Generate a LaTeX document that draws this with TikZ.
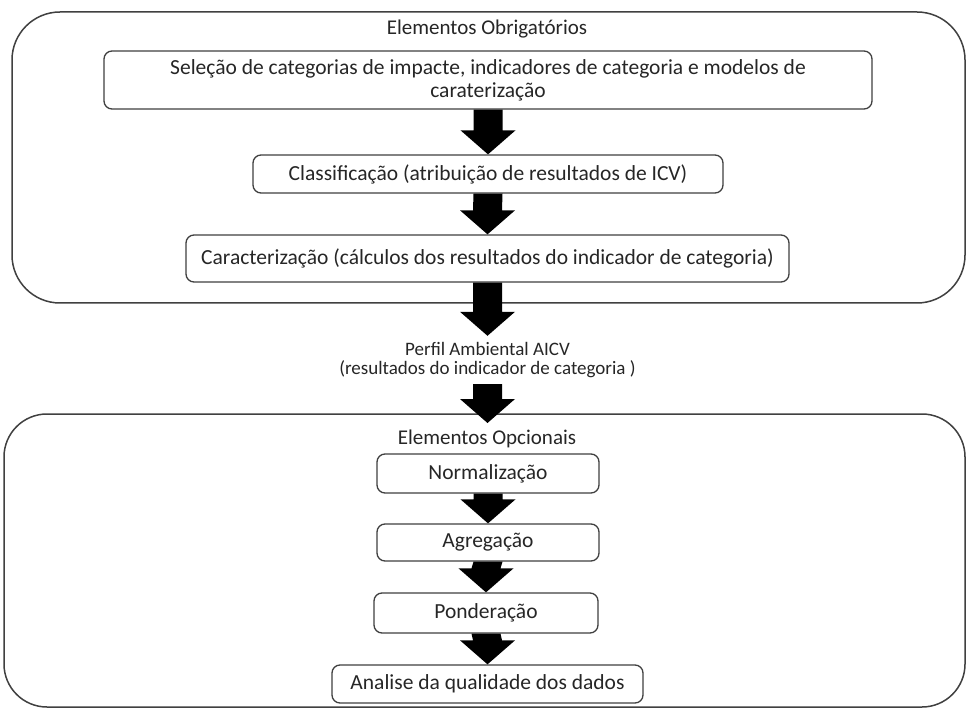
\documentclass[tikz,border=0pt]{standalone}
\usepackage{fontspec}
\setmainfont{Carlito}
\usetikzlibrary{calc}
\definecolor{edge}{HTML}{404040}
\tikzset{
  box/.style={draw=edge, line width=1.3pt, rounded corners=8pt, align=center, inner sep=0pt, font=\fontsize{21.5}{23}\selectfont, text=black!85},
  container/.style={draw=edge, line width=1.5pt},
  lbl/.style={align=center, inner sep=0pt, font=\fontsize{21}{22}\selectfont, text=black!85},
  perfillbl/.style={align=center, inner sep=0pt, font=\fontsize{19}{18.5}\selectfont, text=black!85},
  bigarrow/.style={to path={
    -- ($(\tikztostart)+(14.5,0)$)
    -- ($(\tikztotarget)+(14.5,-24)$)
    -- ($(\tikztotarget)+(27.5,-24)$)
    -- (\tikztotarget)
    -- ($(\tikztotarget)+(-27.5,-24)$)
    -- ($(\tikztotarget)+(-14.5,-24)$)
    -- ($(\tikztostart)+(-14.5,0)$)
    -- cycle}}
}
\begin{document}
\begin{tikzpicture}[x=1pt,y=-1pt]
\clip (0,0) rectangle (966,708);
\fill[white] (0,0) rectangle (966,708);
% containers
\draw[container, rounded corners=48pt] (12,12) rectangle (965,303);
\draw[container, rounded corners=43pt] (4,414) rectangle (965,707);
% titles
\node[lbl] (tobr) at (487,29) {Elementos Obrigatórios};
\node[lbl] (topc) at (487,439) {Elementos Opcionais};
% boxes
\node[box, minimum width=768pt, minimum height=58pt] (b1) at (488,80)
  {Seleção de categorias de impacte, indicadores de categoria e modelos de\\caraterização};
\node[box, minimum width=470pt, minimum height=38pt] (b2) at (488,174)
  {Classificação (atribuição de resultados de ICV)};
\node[box, minimum width=603pt, minimum height=47pt] (b3) at (487.5,258.5)
  {Caracterização (cálculos dos resultados do indicador de categoria)};
\node[perfillbl, minimum height=48pt] (perfil) at (487.5,360)
  {Perfil Ambiental AICV\\(resultados do indicador de categoria )};
\coordinate (t4) at (487.5,423);
\node[box, minimum width=222pt, minimum height=39pt] (bN) at (488,473.5) {Normalização};
\node[box, minimum width=222pt, minimum height=37pt] (bA) at (488,542.5) {Agregação};
\node[box, minimum width=224pt, minimum height=40pt] (bP) at (486,613) {Ponderação};
\node[box, minimum width=311pt, minimum height=38pt] (bQ) at (487.5,684) {Analise da qualidade dos dados};
% arrows
\fill[black] (b1.south) to[bigarrow] (b2.north);
\fill[black] (b2.south) to[bigarrow] (b3.north);
\fill[black] (b3.south) to[bigarrow] (perfil.north);
\fill[black] (perfil.south) to[bigarrow] (t4);
\fill[black] (bN.south) to[bigarrow] (bA.north);
\fill[black] (bA.south) to[bigarrow] (bP.north);
\fill[black] (bP.south) to[bigarrow] (bQ.north);
\end{tikzpicture}
\end{document}
